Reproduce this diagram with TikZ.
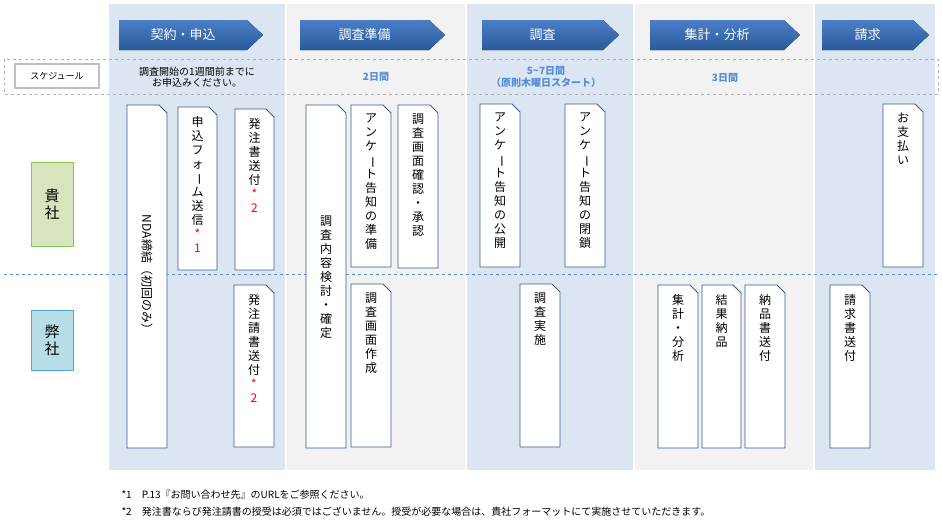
\documentclass[tikz,border=0pt]{standalone}
\usepackage{fontspec}
\setmainfont{Noto Sans CJK JP}
\usetikzlibrary{positioning}
\definecolor{laneblue}{HTML}{DCE6F2}
\definecolor{lanegray}{HTML}{F2F2F2}
\definecolor{memoline}{HTML}{385D8A}
\definecolor{phasetop}{HTML}{4A7EC6}
\definecolor{phasebot}{HTML}{2A5A9A}
\definecolor{schedblue}{HTML}{558ED5}
\makeatletter
\newcommand{\tate}[1]{\vbox{\baselineskip=14pt\@tfor\tchar:=#1\do{\hbox to 13pt{\hss\tchar\hss}}}}
\makeatother
\newcommand{\cho}{\rotatebox[origin=c]{-90}{ー}}
\newcommand{\rd}[1]{\textcolor{red}{#1}}
% memo box with folded corner
\newcommand{\memo}[6]{%
  \draw[memoline,fill=white,line width=0.8pt] (#2,#3) -- (#4-8,#3) -- (#4,#3+8) -- (#4,#5) -- (#2,#5) -- cycle;
  \node[memotext] (#1) at ({(#2+#4)/2},#3+9) {\tate{#6}};}
% phase arrow
\newcommand{\phase}[4]{%
  \fill[top color=phasetop,bottom color=phasebot] (#2,20) -- (#3-16,20) -- (#3,35) -- (#3-16,50) -- (#2,50) -- cycle;
  \node[phasetext] (#1) at ({(#2+#3-16)/2},35) {#4};}
\begin{document}
\begin{tikzpicture}[x=1pt,y=-1pt,
  memotext/.style={anchor=north,inner sep=0pt,font=\fontsize{12}{14}\selectfont},
  phasetext/.style={text=white,font=\fontsize{13}{15}\selectfont},
  schedtext/.style={text=schedblue,font=\bfseries\fontsize{10}{11.5}\selectfont,align=center},
  company/.style={minimum width=42pt,inner sep=0pt,font=\fontsize{15}{17}\selectfont,align=center,line width=0.8pt}]
\useasboundingbox (0,0) rectangle (942,520);
% lanes
\fill[laneblue] (109,4) rectangle (285,470);
\fill[lanegray] (287,4) rectangle (465,470);
\fill[laneblue] (467,4) rectangle (633,470);
\fill[lanegray] (635,4) rectangle (813,470);
\fill[laneblue] (815,4) rectangle (935,470);
% phases
\phase{p1}{119}{263}{契約・申込}
\phase{p2}{300}{445}{調査準備}
\phase{p3}{482}{619}{調査}
\phase{p4}{650}{800}{集計・分析}
\phase{p5}{822}{929}{請求}
% schedule band
\draw[gray!60,dashed] (4,59) rectangle (938,94);
\node[draw=gray!50,line width=2.5pt,minimum width=84pt,minimum height=24pt,fill=white,font=\fontsize{9}{11}\selectfont] (sched) at (57,76) {スケジュール};
\node[align=center,font=\fontsize{10}{11.5}\selectfont] (s1) at (197,77) {調査開始の1週間前までに\\お申込みください。};
\node[schedtext] (s2) at (376,77) {2日間};
\node[schedtext] (s3) at (546,77) {5\textasciitilde 7日間\\（原則木曜日スタート）};
\node[schedtext] (s4) at (725,78) {3日間};
% divider
\draw[schedblue,dashed] (4,274) -- (938,274);
% companies
\node[company,draw=green!40!olive!70,fill={rgb,255:red,215;green,228;blue,189},minimum height=84pt] (kisha) at (52,204) {貴\\社};
\node[company,draw={rgb,255:red,75;green,172;blue,198},fill={rgb,255:red,183;green,222;blue,232},minimum height=60pt] (heisha) at (52,340) {弊\\社};
% tasks
\draw[memoline,fill=white,line width=0.8pt] (127,105) -- (159,105) -- (167,113) -- (167,448) -- (127,448) -- cycle;
\node[rotate=-90,font=\fontsize{12}{14}\selectfont] (nda) at (147,275) {NDA締結（初回のみ）};
\memo{form}{178}{107}{217}{270}{申込フ{ォ}{\cho}ム送信{\rd{*}}{\rd{1}}}
\memo{po}{235}{109}{274}{270}{発注書送付{\rd{*}}{\rd{2}}}
\memo{ack}{234}{285}{274}{447}{発注請書送付{\rd{*}}{\rd{2}}}
\draw[memoline,fill=white,line width=0.8pt] (306,105) -- (338,105) -- (346,113) -- (346,448) -- (306,448) -- cycle;
\node[memotext] (plan) at (326,216) {\tate{調査内容検討・確定}};
\memo{prep}{351}{105}{391}{267}{アンケ{\cho}ト告知の準備}
\memo{check}{398}{105}{438}{268}{調査画面確認・承認}
\memo{screen}{351}{284}{391}{447}{調査画面作成}
\memo{open}{480}{104}{520}{267}{アンケ{\cho}ト告知の公開}
\memo{close}{565}{104}{605}{267}{アンケ{\cho}ト告知の閉鎖}
\memo{survey}{520}{284}{560}{447}{調査実施}
\memo{agg}{658}{285}{698}{448}{集計・分析}
\memo{result}{702}{285}{741}{448}{結果納品}
\memo{deliv}{745}{285}{785}{448}{納品書送付}
\memo{pay}{883}{104}{923}{267}{お支払い}
\memo{bill}{830}{285}{870}{448}{請求書送付}
% notes
\node[anchor=west,font=\fontsize{10}{12}\selectfont] (n1) at (118,495) {*1\quad P.13『お問い合わせ先』のURLをご参照ください。};
\node[anchor=west,font=\fontsize{10}{12}\selectfont] (n2) at (118,512) {*2\quad 発注書ならび発注請書の授受は必須ではございません。授受が必要な場合は、貴社フォーマットにて実施させていただきます。};
\end{tikzpicture}
\end{document}
